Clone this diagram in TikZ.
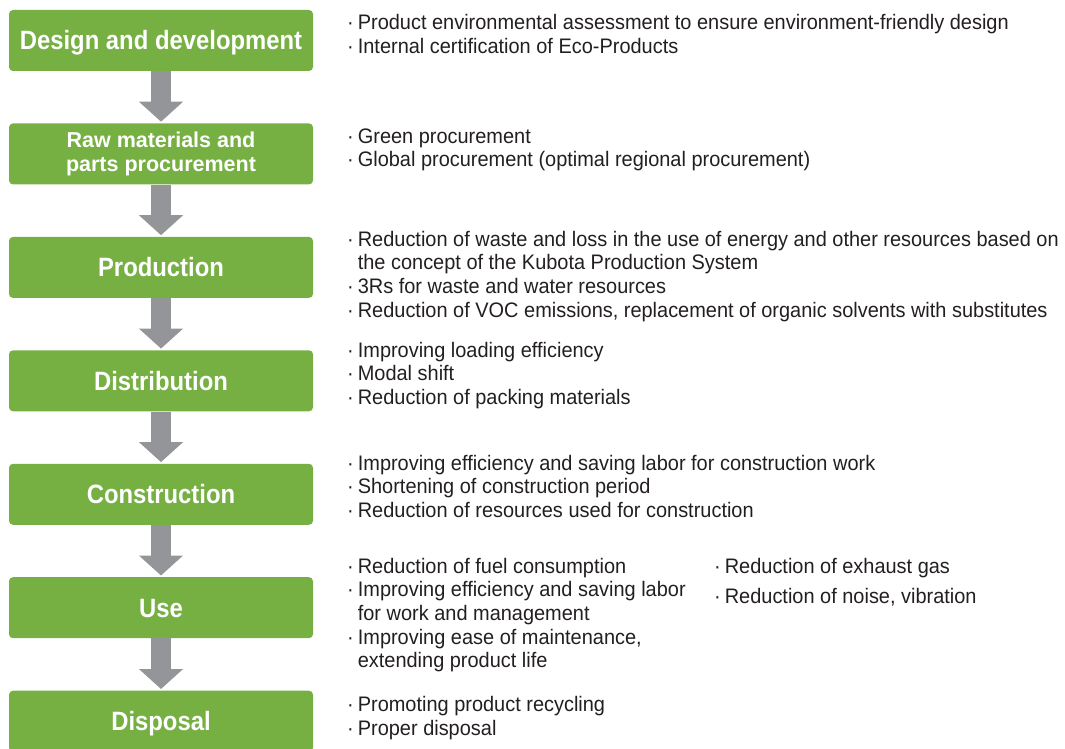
\documentclass[tikz,border=0pt]{standalone}
\usepackage{fontspec}
\setmainfont{Liberation Sans}
\newfontfamily\descfont[FakeStretch=0.95]{Liberation Sans}
\newfontfamily\stagefont[FakeStretch=0.9]{Liberation Sans Bold}
\newfontfamily\stagefontb{Liberation Sans Bold}
\usetikzlibrary{arrows.meta,calc}
\definecolor{boxgreen}{HTML}{76B043}
\definecolor{arrowgray}{HTML}{939598}
\definecolor{txt}{HTML}{231F20}
\newcommand{\itemrow}[1]{\textperiodcentered&#1\\}
\newcommand{\controw}[1]{&#1\\}
\newenvironment{bul}{\begin{tabular}[t]{@{}l@{\hspace{4pt}}l@{}}}{\end{tabular}}
\begin{document}
\begin{tikzpicture}[x=1pt,y=-1pt,
  stage/.style={fill=boxgreen,rounded corners=4pt,minimum width=304pt,minimum height=61pt,
    text=white,font=\stagefont\fontsize{26.5}{28}\selectfont,align=center,inner sep=0pt,
    text height=19pt,text depth=0pt},
  stage2/.style={fill=boxgreen,rounded corners=4pt,minimum width=304pt,minimum height=61pt,
    text=white,font=\stagefontb\fontsize{21.5}{24}\selectfont,align=center,inner sep=0pt},
  flow/.style={draw=arrowgray,line width=20pt,-{Triangle[width=43pt,length=20pt]},shorten >=1.5pt},
  desc/.style={anchor=base west,inner sep=0pt,text=txt,font=\descfont\fontsize{21}{23.7}\selectfont}
]
\useasboundingbox (0,0) rectangle (1065,749);
\clip (0,0) rectangle (1065,749);
\node[stage]  (b1) at (161,40.5)  {Design and development};
\node[stage2] (b2) at (161,153.9) {Raw materials and\\parts procurement};
\node[stage]  (b3) at (161,267.4) {Production};
\node[stage]  (b4) at (161,380.8) {Distribution};
\node[stage]  (b5) at (161,494.3) {Construction};
\node[stage]  (b6) at (161,607.7) {Use};
\node[stage]  (b7) at (161,721.2) {Disposal};
\foreach \a/\b in {b1/b2,b2/b3,b3/b4,b4/b5,b5/b6,b6/b7}
  \draw[flow] (\a.south) -- (\b.north);
\node[desc] (t1) at (347,30) {\begin{bul}
\itemrow{Product environmental assessment to ensure environment-friendly design}
\itemrow{Internal certification of Eco-Products}
\end{bul}};
\node[desc] (t2) at (347,143) {\begin{bul}
\itemrow{Green procurement}
\itemrow{Global procurement (optimal regional procurement)}
\end{bul}};
\node[desc] (t3) at (347,246) {\begin{bul}
\itemrow{Reduction of waste and loss in the use of energy and other resources based on}
\controw{the concept of the Kubota Production System}
\itemrow{3Rs for waste and water resources}
\itemrow{Reduction of VOC emissions, replacement of organic solvents with substitutes}
\end{bul}};
\node[desc] (t4) at (347,357) {\begin{bul}
\itemrow{Improving loading efficiency}
\itemrow{Modal shift}
\itemrow{Reduction of packing materials}
\end{bul}};
\node[desc] (t5) at (347,470) {\begin{bul}
\itemrow{Improving efficiency and saving labor for construction work}
\itemrow{Shortening of construction period}
\itemrow{Reduction of resources used for construction}
\end{bul}};
\node[desc] (t6) at (347,573) {\begin{bul}
\itemrow{Reduction of fuel consumption}
\itemrow{Improving efficiency and saving labor}
\controw{for work and management}
\itemrow{Improving ease of maintenance,}
\controw{extending product life}
\end{bul}};
\node[desc] (t6b) at (714,573) {\begin{bul}
\textperiodcentered&Reduction of exhaust gas\\[6.9pt]
\itemrow{Reduction of noise, vibration}
\end{bul}};
\node[desc] (t7) at (347,711.5) {\begin{bul}
\itemrow{Promoting product recycling}
\itemrow{Proper disposal}
\end{bul}};
\end{tikzpicture}
\end{document}
